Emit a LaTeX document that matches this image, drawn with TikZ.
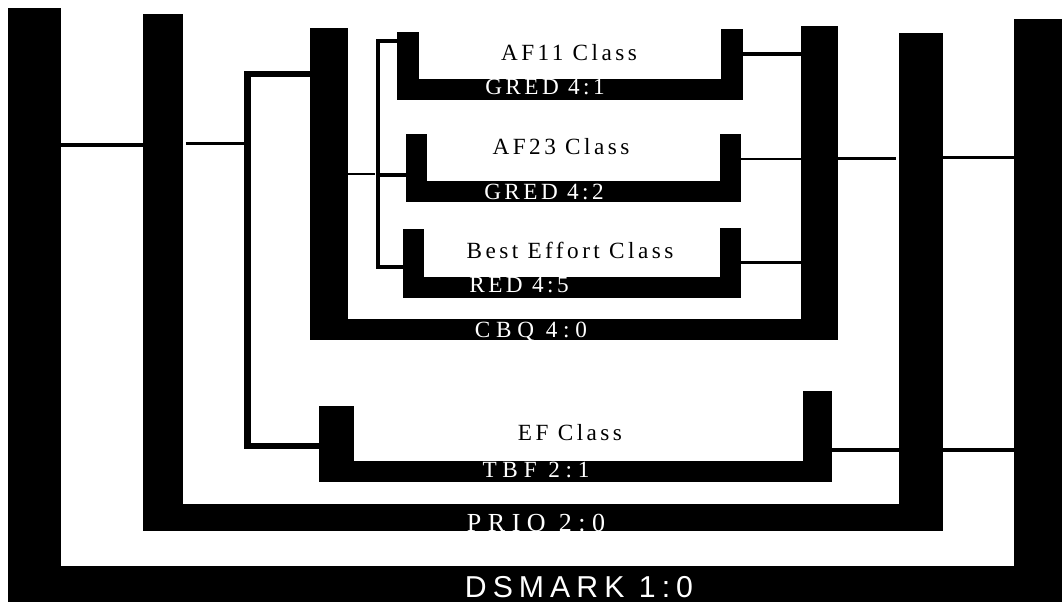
\documentclass[tikz,border=0pt]{standalone}
\usepackage{fontspec}
\setmainfont{Liberation Serif}
\newfontfamily\qdfont[LetterSpace=15]{Liberation Serif}
\newfontfamily\rootfont[LetterSpace=20]{Liberation Sans}
\usetikzlibrary{positioning}

% one black slab of a qdisc bracket, given by its corners (in px)
\newcommand{\qbar}[5]{%
  \node[slab, minimum width={(#4-#2)*0.025cm}, minimum height={(#5-#3)*0.025cm}] (#1) at ({(#2+#4)/2},{(#3+#5)/2}) {};}

\begin{document}
\begin{tikzpicture}[x=0.025cm, y=-0.025cm,
  slab/.style={fill=black, draw=none, inner sep=0pt, outer sep=0pt},
  link/.style={line width=2.6pt},
  hair/.style={line width=1.7pt},
  trunk/.style={line width=4.6pt, line join=miter},
  cls/.style={anchor=base, font=\qdfont\fontsize{16.5}{18}\selectfont},
  qd/.style={cls, text=white},
  root/.style={anchor=base, text=white, font=\rootfont\fontsize{21.5}{24}\selectfont}
]
  \useasboundingbox (0,0) rectangle (1062,602);

  % DSMARK 1:0
  \qbar{dsL}{8}{8}{61}{602}
  \qbar{dsR}{1014}{19}{1062}{602}
  \qbar{dsB}{8}{566}{1062}{602}
  % PRIO 2:0
  \qbar{prL}{143}{14}{183}{531}
  \qbar{prR}{899}{33}{943}{531}
  \qbar{prB}{143}{504}{943}{531}
  % CBQ 4:0
  \qbar{cbqL}{310}{28}{348}{340}
  \qbar{cbqR}{801}{26}{838}{340}
  \qbar{cbqB}{310}{319}{838}{340}
  % TBF 2:1
  \qbar{tbfL}{319}{406}{354}{482}
  \qbar{tbfR}{803}{391}{832}{482}
  \qbar{tbfB}{319}{461}{832}{482}
  % GRED 4:1
  \qbar{af11L}{397}{32}{419}{100}
  \qbar{af11R}{721}{29}{743}{100}
  \qbar{af11B}{397}{79}{743}{100}
  % GRED 4:2
  \qbar{af23L}{406}{134}{427}{202}
  \qbar{af23R}{720}{134}{741}{202}
  \qbar{af23B}{406}{181}{741}{202}
  % RED 4:5
  \qbar{beL}{403}{229}{424}{298}
  \qbar{beR}{720}{228}{741}{298}
  \qbar{beB}{403}{277}{741}{298}

  \coordinate (spine) at (247.5,0);
  \coordinate (fork) at (378,0);

  % ingress side
  \draw[link] (dsL.east |- 0,145) -- (prL.west |- 0,145);
  \draw[link, shorten <=2pt] (prL.east |- 0,143.5) -- (spine |- 0,143.5);
  \draw[trunk] (cbqL.west |- 0,74) -- (spine |- 0,74) -- (spine |- 0,446) -- (tbfL.west |- 0,446);
  \draw[hair, shorten >=2pt] (cbqL.east |- 0,174) -- (fork |- 0,174);
  \draw[link] (af11L.west |- 0,41) -- (fork |- 0,41) -- (fork |- 0,267) -- (beL.west |- 0,267);
  \draw[link] (fork |- 0,175) -- (af23L.west |- 0,175);

  % egress side
  \draw[link] (af11R.east |- 0,54) -- (cbqR.west |- 0,54);
  \draw[hair] (af23R.east |- 0,159) -- (cbqR.west |- 0,159);
  \draw[hair] (beR.east |- 0,262.5) -- (cbqR.west |- 0,262.5);
  \draw[hair, shorten >=2pt] (cbqR.east |- 0,158.5) -- (prR.west |- 0,158.5);
  \draw[hair] (prR.east |- 0,157.5) -- (dsR.west |- 0,157.5);
  \draw[link] (tbfR.east |- 0,450) -- (dsR.west |- 0,450);

  % labels
  \node[root] (dsT) at (579,597) {DSMARK 1:0};
  \node[qd, font=\qdfont\fontsize{18.5}{20}\selectfont\addfontfeature{LetterSpace=25}] (prT) at (536,531) {PRIO 2:0};
  \node[qd, font=\qdfont\fontsize{16.5}{18}\selectfont\addfontfeature{LetterSpace=25}] (cbqT) at (531,337) {CBQ 4:0};
  \node[qd, font=\qdfont\fontsize{16.5}{18}\selectfont\addfontfeature{LetterSpace=25}] (tbfT) at (536,477) {TBF 2:1};
  \node[cls] (efT) at (570,440) {EF Class};
  \node[qd] (gred1T) at (545,95) {GRED 4:1};
  \node[cls] (af11T) at (569,61) {AF11 Class};
  \node[qd] (gred2T) at (544,200) {GRED 4:2};
  \node[cls] (af23T) at (561,155) {AF23 Class};
  \node[qd] (redT) at (519,293) {RED 4:5};
  \node[cls] (beT) at (570,259) {Best Effort Class};
\end{tikzpicture}
\end{document}
